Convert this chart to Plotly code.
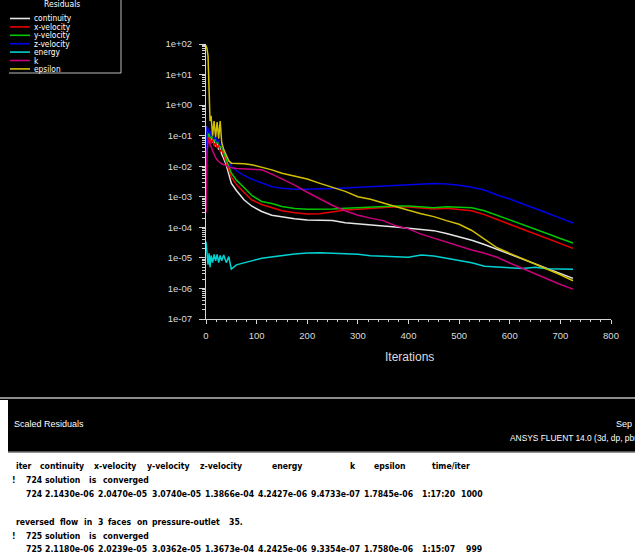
import re
import plotly.graph_objects as go

# ---------------------------------------------------------------- data
iterations = [0, 2, 4, 6, 8, 10, 13, 16, 19, 22, 25, 28, 31, 35, 40, 45, 50,
              60, 75, 90, 110, 130, 150, 175, 200, 225, 250, 275, 300, 325,
              350, 375, 400, 425, 450, 475, 500, 525, 550, 575, 600, 625,
              650, 675, 700, 725]

continuity = [0.2, 0.15, 0.09, 0.12, 0.07, 0.09, 0.06, 0.07, 0.045, 0.055,
              0.035, 0.04, 0.025, 0.018, 0.011, 5.5e-3, 2.8e-3,
              1.6e-3, 8.0e-4, 5.0e-4, 3.3e-4, 2.5e-4, 2.2e-4, 1.9e-4,
              1.75e-4, 1.72e-4, 1.66e-4, 1.41e-4, 1.32e-4, 1.17e-4, 1.1e-4,
              1.02e-4, 9.5e-5, 8.5e-5, 7.8e-5, 6.3e-5, 5.0e-5, 3.8e-5,
              2.75e-5, 1.9e-5, 1.32e-5, 9.1e-6, 6.3e-6, 4.4e-6, 3.1e-6,
              2.143e-6]

x_velocity = [5e-3, 0.07, 0.1, 0.06, 0.09, 0.055, 0.075, 0.045, 0.06, 0.04,
              0.05, 0.03, 0.035, 0.022, 0.014, 8e-3, 4.5e-3,
              2.5e-3, 1.41e-3, 7.9e-4, 5.6e-4, 4.5e-4, 3.5e-4, 3.0e-4,
              2.75e-4, 2.8e-4, 3.2e-4, 3.7e-4, 3.9e-4, 4.2e-4, 4.4e-4,
              4.7e-4, 4.6e-4, 4.3e-4, 4.0e-4, 4.2e-4, 3.8e-4, 3.5e-4,
              2.6e-4, 1.8e-4, 1.26e-4, 8.7e-5, 6.0e-5, 4.3e-5, 2.95e-5,
              2.047e-5]

y_velocity = [6e-3, 0.1, 0.15, 0.09, 0.12, 0.08, 0.1, 0.065, 0.085, 0.055,
              0.065, 0.04, 0.045, 0.028, 0.018, 0.01, 6e-3,
              3.5e-3, 2.0e-3, 1.12e-3, 7.0e-4, 6.0e-4, 4.8e-4, 4.1e-4,
              3.9e-4, 3.9e-4, 4.0e-4, 4.2e-4, 4.4e-4, 4.8e-4, 4.9e-4,
              5.0e-4, 5.0e-4, 4.8e-4, 4.4e-4, 4.7e-4, 4.6e-4, 4.4e-4,
              3.5e-4, 2.5e-4, 1.78e-4, 1.26e-4, 8.7e-5, 6.2e-5, 4.3e-5,
              3.074e-5]

z_velocity = [6e-4, 0.2, 0.17, 0.12, 0.14, 0.1, 0.11, 0.08, 0.09, 0.065,
              0.07, 0.05, 0.05, 0.035, 0.025, 0.016, 0.01,
              7.1e-3, 5.0e-3, 3.8e-3, 2.8e-3, 2.14e-3, 1.9e-3, 1.78e-3,
              1.78e-3, 1.78e-3, 1.86e-3, 1.95e-3, 2.04e-3, 2.14e-3, 2.24e-3,
              2.4e-3, 2.4e-3, 2.5e-3, 2.7e-3, 2.6e-3, 2.4e-3, 2.04e-3,
              1.66e-3, 1.15e-3, 8.5e-4, 5.9e-4, 4.2e-4, 2.9e-4, 2.0e-4,
              1.3866e-4]

energy = [3.4e-5, 1.2e-5, 6e-6, 1.4e-5, 5e-6, 1.2e-5, 7e-6, 1.3e-5, 8e-6,
          1.3e-5, 7e-6, 1.2e-5, 8e-6, 1.25e-5, 7e-6, 1.1e-5, 4.3e-6,
          5.9e-6, 7.0e-6, 8.0e-6, 9.8e-6, 1.1e-5, 1.23e-5, 1.35e-5,
          1.45e-5, 1.48e-5, 1.42e-5, 1.38e-5, 1.32e-5, 1.18e-5, 1.15e-5,
          1.1e-5, 1.05e-5, 1.25e-5, 1.15e-5, 9.8e-6, 8.0e-6, 6.9e-6,
          5.3e-6, 5.0e-6, 4.7e-6, 4.5e-6, 4.9e-6, 4.4e-6, 4.3e-6,
          4.2427e-6]

k = [3e-4, 0.03, 0.06, 0.07, 0.05, 0.045, 0.032, 0.024, 0.019, 0.016,
     0.014, 0.013, 0.012, 0.011, 0.0105, 9.5e-3, 8.9e-3,
     8.5e-3, 8.3e-3, 8.1e-3, 7.6e-3, 5.5e-3, 3.8e-3, 2.4e-3,
     1.41e-3, 8.3e-4, 5.2e-4, 3.5e-4, 2.5e-4, 2.0e-4, 1.66e-4,
     1.12e-4, 8.9e-5, 6.0e-5, 4.4e-5, 3.3e-5, 2.4e-5, 1.82e-5,
     1.41e-5, 1.05e-5, 6.8e-6, 4.5e-6, 3.0e-6, 2.0e-6, 1.35e-6,
     9.473e-7]

epsilon = [90.0, 70.0, 40.0, 2.0, 0.3, 0.45, 0.1, 0.3, 0.09, 0.28,
           0.08, 0.3, 0.06, 0.035, 0.022, 0.015, 1.26e-2,
           1.26e-2, 1.2e-2, 1.12e-2, 9.3e-3, 7.6e-3, 5.9e-3, 4.7e-3,
           3.8e-3, 2.75e-3, 2.0e-3, 1.5e-3, 1.0e-3, 8.3e-4, 6.3e-4,
           4.7e-4, 3.6e-4, 2.8e-4, 2.24e-4, 1.66e-4, 1.26e-4, 7.9e-5,
           4.2e-5, 2.14e-5, 1.41e-5, 9.5e-6, 6.3e-6, 4.3e-6, 2.8e-6,
           1.7845e-6]

series_names = ["continuity", "x-velocity", "y-velocity", "z-velocity",
                "energy", "k", "epsilon"]
series_values = [continuity, x_velocity, y_velocity, z_velocity,
                 energy, k, epsilon]
series_colors = ["#e6e6e6", "#e80000", "#00c800", "#0000e8",
                 "#00d2d2", "#c8007c", "#d2c000"]

x_ticks = [0, 100, 200, 300, 400, 500, 600, 700, 800]
y_exponents = [-7, -6, -5, -4, -3, -2, -1, 0, 1, 2]
y_tick_labels = ["1e-07", "1e-06", "1e-05", "1e-04", "1e-03", "1e-02",
                 "1e-01", "1e+00", "1e+01", "1e+02"]

console_lines = [
    " iter continuity x-velocity y-velocity z-velocity     energy          k    epsilon     time/iter",
    "!  724 solution is converged",
    "   724 2.1430e-06 2.0470e-05 3.0740e-05 1.3866e-04 4.2427e-06 9.4733e-07 1.7845e-06  1:17:20 1000",
    "",
    " reversed flow in 3 faces on pressure-outlet 35.",
    "!  725 solution is converged",
    "   725 2.1180e-06 2.0239e-05 3.0362e-05 1.3673e-04 4.2425e-06 9.3354e-07 1.7580e-06  1:15:07  999",
]

# ---------------------------------------------------------------- geometry
W, H = 635, 557
PL, PR, PT, PB = 206, 611, 44, 319      # plot area in pixels


def px(x):
    return (x - PL) / (PR - PL)


def py(y):
    return (PB - y) / (PB - PT)


AXIS_C = "#d4d4d4"
LABEL_C = "#dcdcdc"
SANS = "Liberation Sans, Arial, sans-serif"
TICK_FONT = dict(family=SANS, size=9.5, color=LABEL_C)
NARROW = "DejaVu Sans Condensed, sans-serif"

fig = go.Figure()
for name, vals, color in zip(series_names, series_values, series_colors):
    fig.add_trace(go.Scatter(x=iterations, y=vals, mode="lines", name=name,
                             line=dict(color=color, width=1.5),
                             showlegend=False, hoverinfo="skip"))

shapes = []
annotations = []

# console panel and window frame
shapes.append(dict(type="rect", xref="paper", yref="paper",
                   x0=px(0), x1=px(W), y0=py(H), y1=py(452),
                   fillcolor="white", line=dict(width=0), layer="below"))
shapes.append(dict(type="rect", xref="paper", yref="paper",
                   x0=px(0), x1=px(8), y0=py(452), y1=py(400),
                   fillcolor="white", line=dict(width=0), layer="below"))
shapes.append(dict(type="line", xref="paper", yref="paper",
                   x0=px(0), x1=px(W), y0=py(398), y1=py(398),
                   line=dict(color="#8c8c8c", width=2)))
shapes.append(dict(type="line", xref="paper", yref="paper",
                   x0=px(8), x1=px(W), y0=py(452), y1=py(452),
                   line=dict(color="#707070", width=1.5)))

# residuals legend box
LEG_L, LEG_R, LEG_B = 9, 121, 73
shapes.append(dict(type="line", xref="paper", yref="paper",
                   x0=px(LEG_R), x1=px(LEG_R), y0=py(0), y1=py(LEG_B),
                   line=dict(color="#bdbdbd", width=1)))
shapes.append(dict(type="line", xref="paper", yref="paper",
                   x0=px(LEG_L), x1=px(LEG_R), y0=py(LEG_B), y1=py(LEG_B),
                   line=dict(color="#bdbdbd", width=1)))
annotations.append(dict(xref="paper", yref="paper", x=px(62), y=py(4),
                        text="Residuals", showarrow=False,
                        xanchor="center", yanchor="middle",
                        font=dict(family=NARROW, size=8.5, color="white")))
for i, (name, color) in enumerate(zip(series_names, series_colors)):
    yy = 18.5 + i * 8.4
    shapes.append(dict(type="line", xref="paper", yref="paper",
                       x0=px(10), x1=px(30), y0=py(yy), y1=py(yy),
                       line=dict(color=color, width=1.6)))
    annotations.append(dict(xref="paper", yref="paper", x=px(32), y=py(yy),
                            text=name, showarrow=False,
                            xanchor="left", yanchor="middle",
                            font=dict(family=NARROW, size=8.3, color="white")))

# axis title
annotations.append(dict(xref="paper", yref="paper", x=px(409), y=py(357),
                        text="Iterations", showarrow=False,
                        xanchor="center", yanchor="middle",
                        font=dict(family=SANS, size=12, color=LABEL_C)))

# status band texts
BAND_FONT = dict(family=SANS, size=9, color="white")
annotations.append(dict(xref="paper", yref="paper", x=px(12), y=py(424),
                        text="Scaled Residuals", showarrow=False,
                        xanchor="left", yanchor="middle", font=BAND_FONT))
annotations.append(dict(xref="paper", yref="paper", x=px(614), y=py(424),
                        text="Sep", showarrow=False,
                        xanchor="left", yanchor="middle", font=BAND_FONT))
annotations.append(dict(xref="paper", yref="paper", x=px(508), y=py(438),
                        text="ANSYS FLUENT 14.0 (3d, dp, pbns, ske)",
                        showarrow=False, xanchor="left", yanchor="middle",
                        font=dict(family=SANS, size=8.4, color="white")))

# console output, laid out on a fixed character grid
CON_X0, CON_CW, CON_Y0, CON_LH = 9.5, 4.83, 466, 13.9
CON_FONT = dict(family=NARROW, size=8.6, color="black", weight="bold")
for row, line in enumerate(console_lines):
    yy = CON_Y0 + row * CON_LH
    for m in re.finditer(r"\S+", line):
        annotations.append(dict(xref="paper", yref="paper",
                                x=px(CON_X0 + m.start() * CON_CW), y=py(yy),
                                text=m.group(0), showarrow=False,
                                xanchor="left", yanchor="middle",
                                font=CON_FONT))

minor_y = [m * 10.0 ** e for e in range(-7, 2) for m in range(2, 10)]

fig.update_layout(
    width=W, height=H,
    margin=dict(l=PL, r=W - PR, t=PT, b=H - PB, pad=0, autoexpand=False),
    paper_bgcolor="black", plot_bgcolor="black",
    showlegend=False,
    shapes=shapes, annotations=annotations,
    xaxis=dict(range=[0, 800], tickmode="array", tickvals=x_ticks,
               ticktext=[str(v) for v in x_ticks],
               ticks="outside", ticklen=4, tickwidth=1, tickcolor=AXIS_C,
               showline=True, linecolor=AXIS_C, linewidth=1,
               showgrid=False, zeroline=False, tickfont=TICK_FONT,
               ticklabelstandoff=4,
               minor=dict(ticks="outside", ticklen=2, tickcolor=AXIS_C,
                          dtick=20, tick0=0, showgrid=False)),
    yaxis=dict(type="log", range=[-7, 2], tickmode="array",
               tickvals=[10.0 ** e for e in y_exponents],
               ticktext=y_tick_labels,
               ticks="outside", ticklen=6, tickwidth=1, tickcolor=AXIS_C,
               showline=True, linecolor=AXIS_C, linewidth=1,
               showgrid=False, zeroline=False, tickfont=TICK_FONT,
               ticklabelstandoff=5,
               minor=dict(ticks="outside", ticklen=3, tickcolor=AXIS_C,
                          tickmode="array", tickvals=minor_y, showgrid=False)),
)

fig.write_html("out.html")
